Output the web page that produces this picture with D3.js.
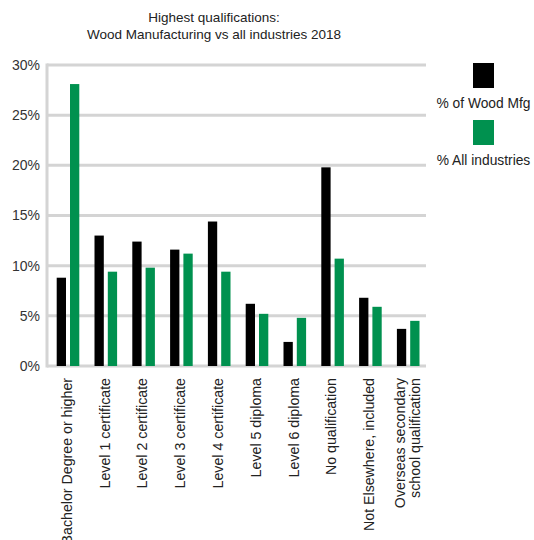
<!DOCTYPE html>
<html><head><meta charset="utf-8">
<script src="https://cdn.jsdelivr.net/npm/d3@7"></script>
<style>body{margin:0;background:#fff;} svg{display:block;font-family:"Liberation Sans",Arial,sans-serif;}</style>
</head><body>
<script>
const categories = ["Bachelor Degree or higher","Level 1 certificate","Level 2 certificate","Level 3 certificate","Level 4 certificate","Level 5 diploma","Level 6 diploma","No qualification","Not Elsewhere, included","Overseas secondary school qualification"];
const labelLines = [["Bachelor Degree or higher"],["Level 1 certificate"],["Level 2 certificate"],["Level 3 certificate"],["Level 4 certificate"],["Level 5 diploma"],["Level 6 diploma"],["No qualification"],["Not Elsewhere, included"],["Overseas secondary","school qualification"]];
const woodMfg = [8.8, 13.0, 12.4, 11.6, 14.4, 6.2, 2.4, 19.8, 6.8, 3.7];
const allIndustries = [28.1, 9.4, 9.8, 11.2, 9.4, 5.2, 4.8, 10.7, 5.9, 4.5];
const seriesNames = ["% of Wood Mfg", "% All industries"];
const yTicks = [0, 5, 10, 15, 20, 25, 30];
const colors = ["#000000", "#00914f"];

(function () {
const W = 534, H = 540;
const svg = d3.select("body").append("svg").attr("width", W).attr("height", H);
const mLeft = 47, mRight = 425, mTop = 65, mBottom = 366;

const x = d3.scaleBand().domain(categories).range([mLeft, mRight]).paddingInner(0).paddingOuter(0);
const y = d3.scaleLinear().domain([0, 30]).range([mBottom, mTop]);

// title
svg.append("text").attr("x", 214).attr("y", 22).attr("text-anchor", "middle").attr("font-size", 13.5).attr("fill", "#222").text("Highest qualifications:");
svg.append("text").attr("x", 214).attr("y", 39).attr("text-anchor", "middle").attr("font-size", 13.5).attr("fill", "#222").text("Wood Manufacturing vs all industries 2018");

// gridlines
svg.append("g").selectAll("line").data(yTicks).join("line")
  .attr("x1", mLeft).attr("x2", mRight + 1)
  .attr("y1", d => y(d)).attr("y2", d => y(d))
  .attr("stroke", "#d4d4d4").attr("stroke-width", 3);
svg.append("line").attr("x1", mLeft).attr("x2", mLeft).attr("y1", y(30) - 1.5).attr("y2", y(0) + 1.5)
  .attr("stroke", "#d4d4d4").attr("stroke-width", 3);

// y labels
svg.append("g").selectAll("text").data(yTicks).join("text")
  .attr("x", 40).attr("y", d => y(d)).attr("dy", "0.35em").attr("text-anchor", "end")
  .attr("font-size", 14).attr("fill", "#333").text(d => d + "%");

// bars
const bw = 9.3, off0 = 9.7, off1 = 23;
svg.append("g").selectAll("rect").data(woodMfg).join("rect")
  .attr("x", (d, i) => x(categories[i]) + off0).attr("width", bw)
  .attr("y", d => y(d)).attr("height", d => y(0) - y(d)).attr("fill", colors[0]);
svg.append("g").selectAll("rect").data(allIndustries).join("rect")
  .attr("x", (d, i) => x(categories[i]) + off1).attr("width", bw)
  .attr("y", d => y(d)).attr("height", d => y(0) - y(d)).attr("fill", colors[1]);

// x labels
const xl = svg.append("g");
categories.forEach((c, i) => {
  const lines = labelLines[i];
  const cx = x(c) + x.bandwidth() / 2 + 1;
  const t = xl.append("text").attr("transform", `translate(${cx},378) rotate(-90)`)
    .attr("text-anchor", "end").attr("font-size", 14.2).attr("fill", "#222");
  lines.forEach((ln, j) => {
    t.append("tspan").attr("x", 0).attr("y", (j - (lines.length - 1) / 2) * 15).attr("dy", "0.35em").text(ln);
  });
});

// legend
const lg = svg.append("g");
seriesNames.forEach((s, i) => {
  lg.append("rect").attr("x", 473).attr("y", 63 + i * 57).attr("width", 21).attr("height", 25).attr("fill", colors[i]);
  lg.append("text").attr("x", 483.5).attr("y", 103 + i * 57).attr("dy", "0.35em").attr("text-anchor", "middle")
    .attr("font-size", 13.8).attr("fill", "#222").text(s);
});
})();
</script>
</body></html>
